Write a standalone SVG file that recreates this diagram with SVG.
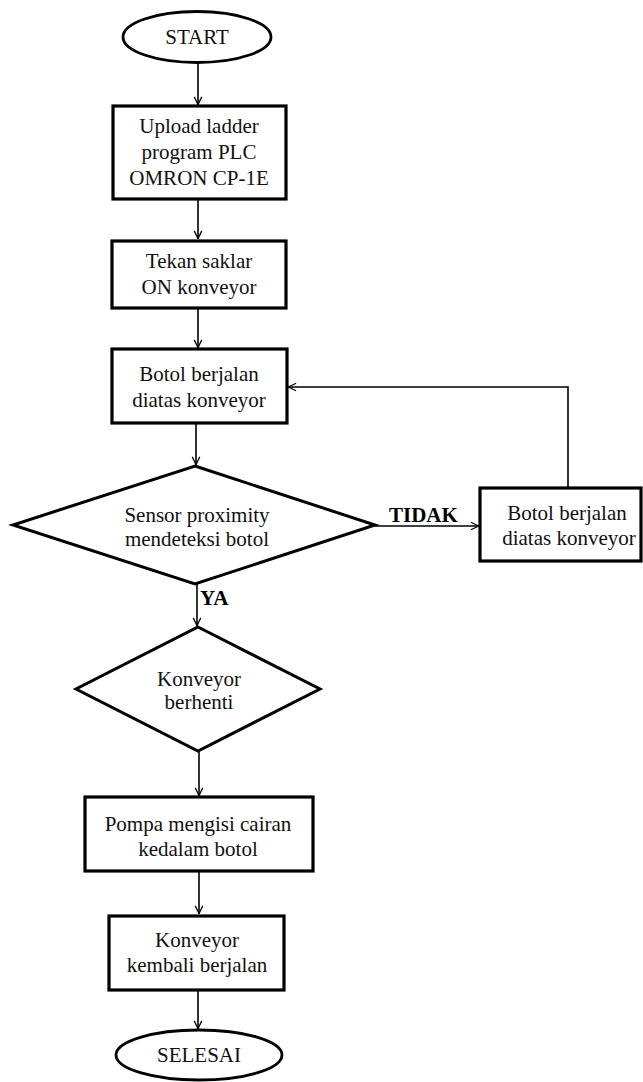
<svg xmlns="http://www.w3.org/2000/svg" width="643" height="1082" viewBox="0 0 643 1082">
<defs>
<marker id="arr" markerUnits="userSpaceOnUse" viewBox="0 0 10 10" refX="10" refY="5" markerWidth="9" markerHeight="11" orient="auto">
<path d="M1,0.8 L9.6,5 L1,9.2" fill="none" stroke="#000" stroke-width="1.4"/>
</marker>
<style>
.box{fill:#fff;stroke:#000;stroke-width:3.2}
.term{fill:#fff;stroke:#000;stroke-width:2.8}
.dia{fill:#fff;stroke:#000;stroke-width:3}
text{font-family:'Liberation Serif','Times New Roman',Times,serif;font-size:21px}
.t{fill:#111;text-anchor:middle}
.lbl{font-weight:bold;fill:#000}
.c{fill:none;stroke:#000;stroke-width:1.6;marker-end:url(#arr)}
</style>
</defs>
<rect width="643" height="1082" fill="#fff"/>
<g id="connectors" font-family="Liberation Serif, serif">
<line class="c" x1="198" y1="63" x2="198" y2="105"/>
<line class="c" x1="198" y1="199" x2="198" y2="239"/>
<line class="c" x1="198" y1="308" x2="198" y2="348"/>
<line class="c" x1="196" y1="423" x2="196" y2="465"/>
<line class="c" x1="375" y1="526" x2="479" y2="526"/>
<polyline class="c" points="568,488 568,387 288,387"/>
<line class="c" x1="197" y1="584" x2="197" y2="626"/>
<line class="c" x1="199" y1="751" x2="199" y2="796"/>
<line class="c" x1="199" y1="871" x2="199" y2="914"/>
<line class="c" x1="198" y1="990" x2="198" y2="1029"/>
<text class="lbl" x="389" y="522">TIDAK</text>
<text class="lbl" x="200" y="605">YA</text>
</g>
<g id="start" font-family="Liberation Serif, serif">
<ellipse class="term" cx="197" cy="37" rx="74" ry="25.5"/>
<text class="t" x="197" y="44">START</text>
</g>
<g id="upload" font-family="Liberation Serif, serif">
<rect class="box" x="113" y="106" width="173" height="93"/>
<text class="t" x="199" y="133">Upload ladder</text>
<text class="t" x="199" y="159">program PLC</text>
<text class="t" x="199" y="185">OMRON CP-1E</text>
</g>
<g id="tekan" font-family="Liberation Serif, serif">
<rect class="box" x="112" y="241" width="174" height="67"/>
<text class="t" x="199" y="268">Tekan saklar</text>
<text class="t" x="199" y="294">ON konveyor</text>
</g>
<g id="botol1" font-family="Liberation Serif, serif">
<rect class="box" x="112" y="349" width="175" height="74"/>
<text class="t" x="199" y="381">Botol berjalan</text>
<text class="t" x="199" y="407">diatas konveyor</text>
</g>
<g id="sensor" font-family="Liberation Serif, serif">
<polygon class="dia" points="195,466 375,525 195,584 13,525"/>
<text class="t" x="197" y="522">Sensor proximity</text>
<text class="t" x="197" y="546">mendeteksi botol</text>
</g>
<g id="botol2" font-family="Liberation Serif, serif">
<rect class="box" x="480" y="488" width="161" height="73"/>
<text class="t" x="567" y="520">Botol berjalan</text>
<text class="t" x="569" y="545">diatas konveyor</text>
</g>
<g id="berhenti" font-family="Liberation Serif, serif">
<polygon class="dia" points="198,627 320,689 198,751 76,689"/>
<text class="t" x="199" y="686">Konveyor</text>
<text class="t" x="199" y="709">berhenti</text>
</g>
<g id="pompa" font-family="Liberation Serif, serif">
<rect class="box" x="85" y="797" width="228" height="74"/>
<text class="t" x="198" y="831">Pompa mengisi cairan</text>
<text class="t" x="198" y="856">kedalam botol</text>
</g>
<g id="kembali" font-family="Liberation Serif, serif">
<rect class="box" x="109" y="916" width="175" height="74"/>
<text class="t" x="197" y="947">Konveyor</text>
<text class="t" x="197" y="972">kembali berjalan</text>
</g>
<g id="selesai" font-family="Liberation Serif, serif">
<ellipse class="term" cx="199" cy="1055" rx="83" ry="25"/>
<text class="t" x="199" y="1062">SELESAI</text>
</g>
</svg>
